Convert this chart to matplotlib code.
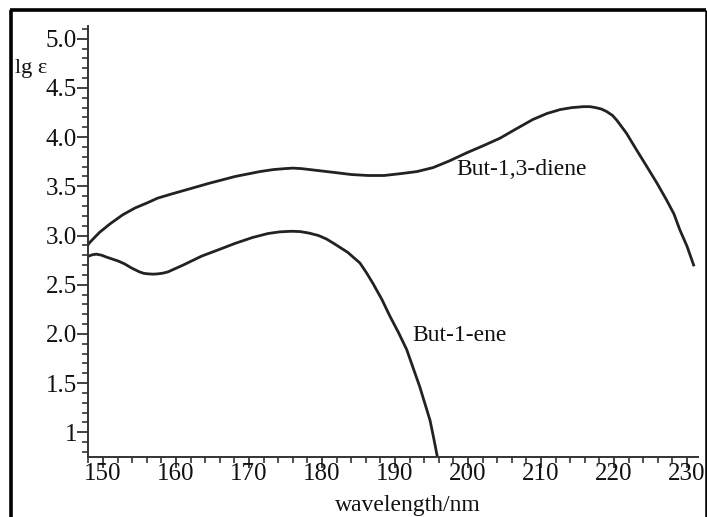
import matplotlib
matplotlib.use("Agg")
import matplotlib.pyplot as plt
from matplotlib.ticker import MultipleLocator, FixedLocator
import matplotlib.lines as mlines

plt.rcParams['font.family'] = ['Liberation Serif', 'DejaVu Serif']

# But-1,3-diene (wavelength nm, lg eps)
diene_x = [148.0, 148.2, 149.5, 151.0, 152.7, 154.4, 156.0, 157.5, 159.3, 161.2, 164.5,
           168.1, 171.5, 173.3, 174.9, 176.0, 177.2, 179.5, 181.8, 184.0, 186.3, 188.5,
           190.9, 193.0, 195.2, 197.5, 199.8, 202.0, 204.4, 206.5, 208.9, 210.8, 212.6,
           214.2, 215.8, 216.7, 217.5, 218.3, 219.0, 219.8, 220.4, 221.0, 221.7, 223.0,
           224.5, 225.9, 227.2, 228.2, 229.0, 230.0, 230.9]
diene_y = [2.91, 2.93, 3.03, 3.12, 3.21, 3.28, 3.33, 3.38, 3.42, 3.46, 3.53,
           3.60, 3.65, 3.67, 3.68, 3.685, 3.68, 3.66, 3.64, 3.62, 3.61, 3.61,
           3.63, 3.65, 3.69, 3.76, 3.84, 3.91, 3.99, 4.08, 4.18, 4.24, 4.28,
           4.30, 4.31, 4.31, 4.30, 4.285, 4.26, 4.22, 4.17, 4.11, 4.04, 3.88,
           3.70, 3.53, 3.36, 3.22, 3.06, 2.89, 2.70]

# But-1-ene
ene_x = [148.0, 148.6, 149.1, 149.8, 150.5, 152.1, 153.0, 153.9, 155.0, 155.6, 156.2,
         156.9, 157.5, 158.2, 158.9, 161.0, 163.5, 166.0, 168.1, 170.5, 172.6, 174.2,
         175.8, 177.0, 178.2, 179.5, 180.6, 181.6, 183.5, 185.2, 186.1, 187.0, 188.2,
         189.3, 190.5, 191.6, 192.5, 193.4, 194.1, 194.8, 195.3, 195.8]
ene_y = [2.79, 2.805, 2.81, 2.80, 2.78, 2.74, 2.71, 2.67, 2.63, 2.615, 2.61,
         2.607, 2.61, 2.617, 2.63, 2.70, 2.79, 2.86, 2.92, 2.98, 3.02, 3.037,
         3.043, 3.04, 3.025, 3.00, 2.965, 2.92, 2.83, 2.72, 2.62, 2.51, 2.35,
         2.18, 2.01, 1.84, 1.65, 1.46, 1.29, 1.12, 0.94, 0.75]

ytick_vals = [1.0, 1.5, 2.0, 2.5, 3.0, 3.5, 4.0, 4.5, 5.0]
ytick_labels = ['1', '1.5', '2.0', '2.5', '3.0', '3.5', '4.0', '4.5', '5.0']
xtick_vals = [150, 160, 170, 180, 190, 200, 210, 220, 230]
xtick_labels = ['150', '160', '170', '180', '190', '200', '210', '220', '230']

fig = plt.figure(figsize=(7.07, 5.17), dpi=100)
ax = fig.add_axes([88/707, 1-457/517, (698-88)/707, (457-26)/517])

line_col = '#222222'
ax.plot(diene_x, diene_y, color=line_col, lw=2.0, solid_joinstyle='round')
ax.plot(ene_x, ene_y, color=line_col, lw=2.0, solid_joinstyle='round')

ax.set_xlim(147.95, 231.5)
ax.set_ylim(0.748, 5.13)

for s in ['top', 'right']:
    ax.spines[s].set_visible(False)
for s in ['left', 'bottom']:
    ax.spines[s].set_linewidth(1.4)
    ax.spines[s].set_color('#333333')

ax.xaxis.set_major_locator(FixedLocator(xtick_vals))
ax.set_xticklabels(xtick_labels)
ax.xaxis.set_minor_locator(MultipleLocator(2))
ax.yaxis.set_major_locator(FixedLocator(ytick_vals))
ax.set_yticklabels(ytick_labels)
ax.yaxis.set_minor_locator(MultipleLocator(0.1))

ax.tick_params(axis='both', which='major', direction='out', length=8, width=1.3,
               color='#333333', labelsize=18, labelcolor='#111111')
ax.tick_params(axis='x', which='major', pad=-4)
ax.tick_params(axis='y', which='major', pad=0)
ax.tick_params(axis='both', which='minor', direction='out', length=4.5, width=1.2,
               color='#333333')

ax.text(198.4, 3.67, 'But-1,3-diene', fontsize=17, ha='left', va='center', color='#111111')
ax.text(192.4, 1.98, 'But-1-ene', fontsize=17, ha='left', va='center', color='#111111')

fig.text(15/707, 1-68/517, 'lg ε', fontsize=16, ha='left', va='center', color='#111111')
fig.text(408/707, 1-505/517, 'wavelength/nm', fontsize=17, ha='center', va='center', color='#111111')

# outer frame
fig.add_artist(mlines.Line2D([11/707, 11/707], [0, 1-10/517], transform=fig.transFigure,
                             color='black', lw=2.6, solid_capstyle='butt'))
fig.add_artist(mlines.Line2D([10/707, 706/707], [1-10/517, 1-10/517], transform=fig.transFigure,
                             color='black', lw=2.6, solid_capstyle='butt'))
fig.add_artist(mlines.Line2D([705.5/707, 705.5/707], [0, 1-10/517], transform=fig.transFigure,
                             color='black', lw=1.8, solid_capstyle='butt'))

fig.savefig('out.png', dpi=100)
